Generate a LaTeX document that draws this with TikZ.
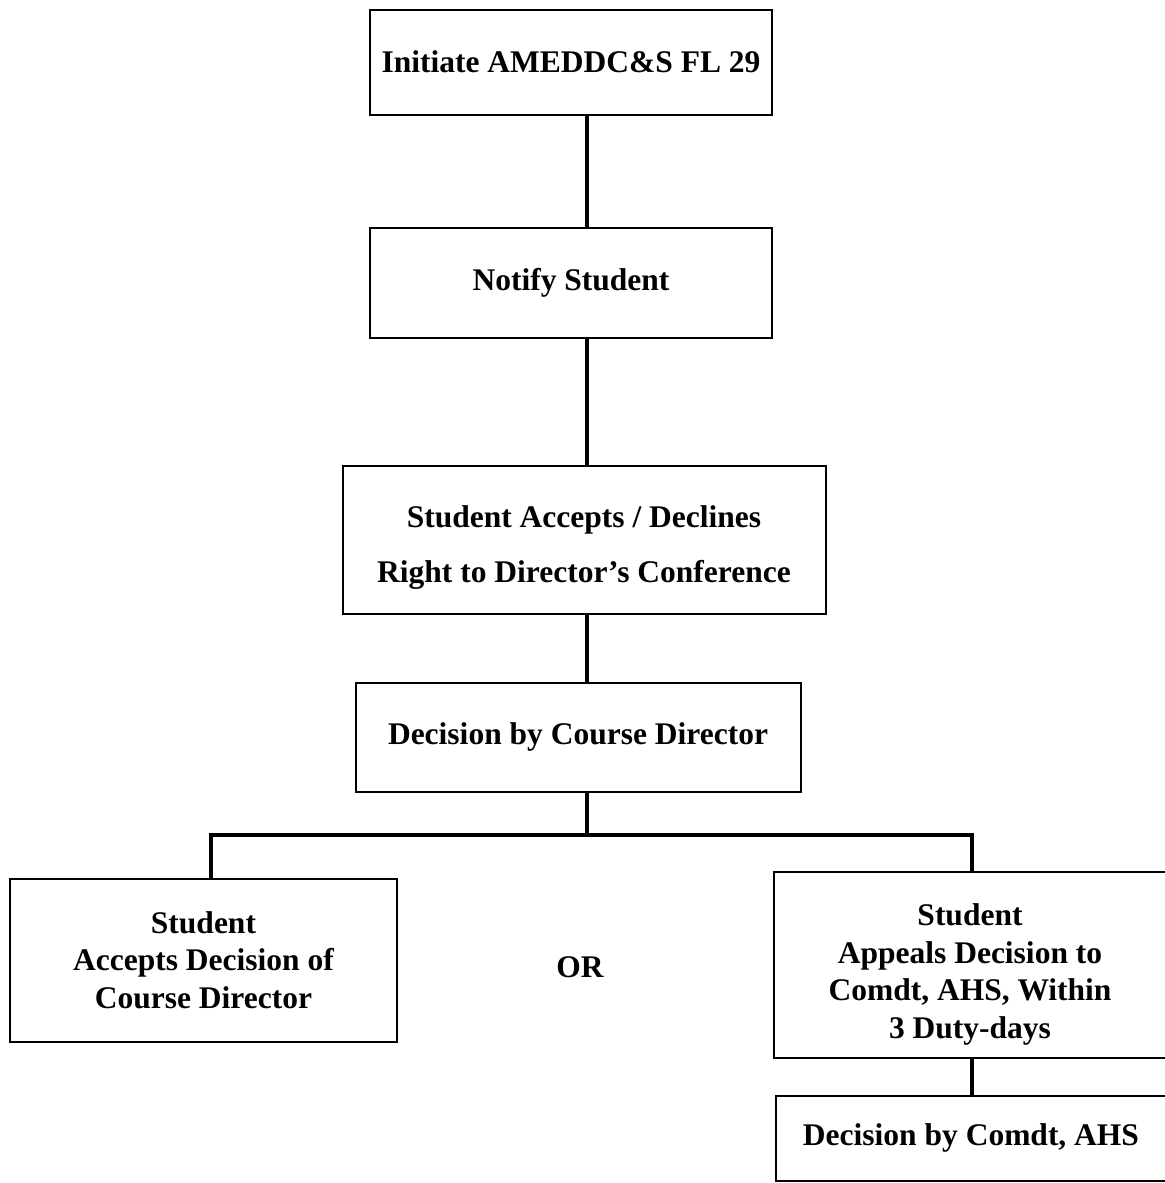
\documentclass[tikz,border=0pt]{standalone}
\usepackage{fontspec}
\setmainfont{Liberation Serif}
\usetikzlibrary{positioning}
\tikzset{
  every node/.style={text=black, font=\bfseries\fontsize{15.75}{18.75}\selectfont, align=center},
  stepbox/.style={draw=black, line width=1pt, inner sep=0pt},
  link/.style={draw=black, line width=2pt}
}

\begin{document}
\begin{tikzpicture}
  \useasboundingbox (0,0) rectangle (582.5pt,-591.5pt);
  % Boxes
  \node (init) [stepbox, minimum width=201pt, minimum height=52.5pt] at (285.5pt,-31pt) {Initiate AMEDDC\&S FL 29};
  \node (notify) [stepbox, below=55.5pt of init, minimum width=201pt, minimum height=55pt] {Notify Student};
  \node (confer) [stepbox, below=63pt of notify, xshift=6.5pt, minimum width=241.5pt, minimum height=74pt] {
    \rule{0pt}{19pt}Student Accepts / Declines\\[9pt]
    Right to Director's Conference
  };
  \node (cdecision) [stepbox, below=33.5pt of confer, xshift=-3pt, minimum width=222.5pt, minimum height=54.5pt] {Decision by Course Director};
  \node (accept) [stepbox, below=42.5pt of cdecision, xshift=-187.25pt, minimum width=193.5pt, minimum height=81.5pt] {
    Student\\
    Accepts Decision of\\
    Course Director
  };
  \node (appeal) [stepbox, below=39pt of cdecision, xshift=196pt, minimum width=196pt, minimum height=93pt] {
    \rule{0pt}{21pt}Student\\
    Appeals Decision to\\
    Comdt, AHS, Within\\
    3 Duty-days
  };
  \node (comdt) [stepbox, below=18pt of appeal, xshift=0.5pt, minimum width=195pt, minimum height=42.5pt] {Decision by Comdt, AHS};
  \node (or) at (290pt,-483.5pt) {OR};

  % Connectors
  \coordinate (spine) at (293.5pt,-417.5pt);
  \coordinate (lbranch) at (105.5pt,-417.5pt);
  \coordinate (rbranch) at (486pt,-417.5pt);
  \draw[link] (init.south -| spine) -- (notify.north -| spine);
  \draw[link] (notify.south -| spine) -- (confer.north -| spine);
  \draw[link] (confer.south -| spine) -- (cdecision.north -| spine);
  \draw[link] (cdecision.south -| spine) -- (spine);
  \draw[link] (accept.north -| lbranch) -- (lbranch) -- (rbranch) -- (appeal.north -| rbranch);
  \draw[link] (appeal.south -| rbranch) -- (comdt.north -| rbranch);
\end{tikzpicture}
\end{document}
